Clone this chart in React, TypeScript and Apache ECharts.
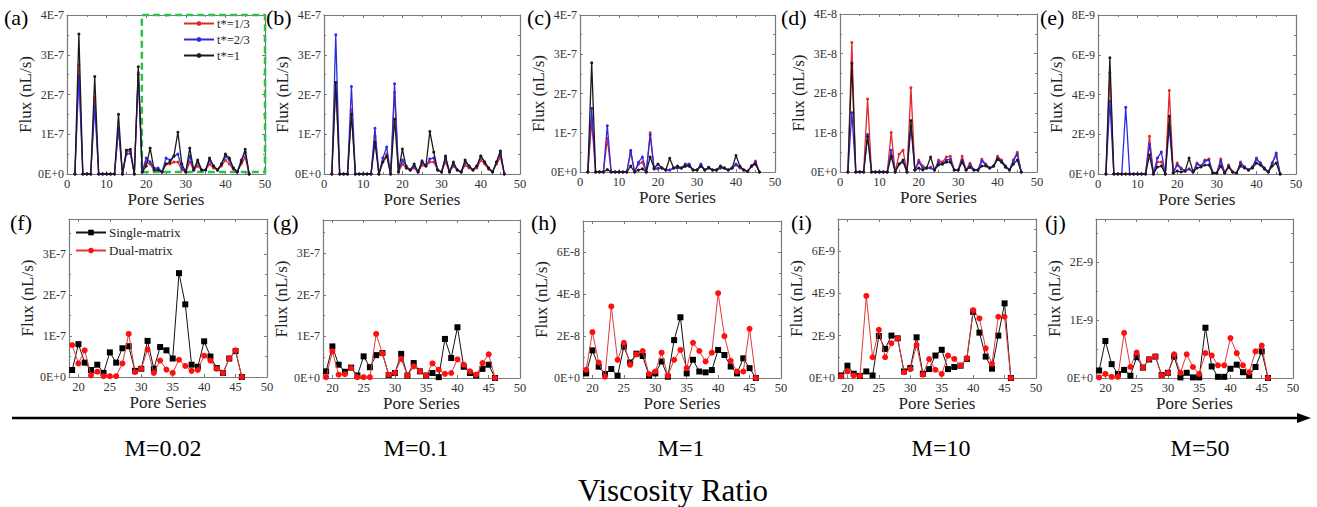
import React, { useEffect, useRef } from "react";
import * as echarts from "echarts";

// ---------- DATA ----------
const PORES_TOP = [2, 3, 4, 5, 6, 7, 8, 9, 10, 11, 12, 13, 14, 15, 16, 17, 18, 19, 20, 21, 22, 23, 24, 25, 26, 27, 28, 29, 30, 31, 32, 33, 34, 35, 36, 37, 38, 39, 40, 41, 42, 43, 44, 45, 46];
const PORES_BOTTOM = [19, 20, 21, 22, 23, 24, 25, 26, 27, 28, 29, 30, 31, 32, 33, 34, 35, 36, 37, 38, 39, 40, 41, 42, 43, 44, 45, 46];
const X_TICKS_BOTTOM = [20, 25, 30, 35, 40, 45, 50];
const TOP_NAMES = ["t*=1/3", "t*=2/3", "t*=1"];
const BOTTOM_NAMES = ["Single-matrix", "Dual-matrix"];
const M_LABELS = ["M=0.02", "M=0.1", "M=1", "M=10", "M=50"];
const PANEL_LETTERS_TOP = ["(a)", "(b)", "(c)", "(d)", "(e)"];
const PANEL_LETTERS_BOTTOM = ["(f)", "(g)", "(h)", "(i)", "(j)"];

// top row values (in units of each panel's exponent)
const A_RED = [0, 2.75, 0, 0, 0, 1.92, 0, 0, 0, 0, 0, 1.15, 0, 0.55, 0.58, 0, 2.55, 0.05, 0.3, 0.25, 0.1, 0.1, 0.05, 0.25, 0.25, 0.3, 0.3, 0.1, 0.05, 0.3, 0.1, 0.2, 0.1, 0.1, 0.25, 0.15, 0.1, 0.2, 0.35, 0.25, 0.12, 0.05, 0.25, 0.42, 0];
const A_BLUE = [0, 2.45, 0, 0, 0, 1.7, 0, 0, 0, 0, 0, 1.15, 0, 0.5, 0.52, 0, 2.5, 0.05, 0.4, 0.3, 0.15, 0.15, 0.05, 0.4, 0.35, 0.45, 0.5, 0.15, 0.05, 0.45, 0.1, 0.3, 0.1, 0.1, 0.35, 0.2, 0.1, 0.25, 0.45, 0.35, 0.15, 0.05, 0.35, 0.55, 0];
const A_BLACK = [0, 3.52, 0, 0, 0, 2.45, 0, 0, 0, 0, 0, 1.5, 0, 0.6, 0.62, 0, 2.7, 0.05, 0.2, 0.65, 0.1, 0.1, 0.05, 0.25, 0.3, 0.45, 1.05, 0.25, 0.05, 0.65, 0.1, 0.35, 0.1, 0.1, 0.4, 0.2, 0.1, 0.25, 0.5, 0.4, 0.15, 0.05, 0.3, 0.62, 0];

const B_RED = [0, 2.3, 0, 0, 0, 1.62, 0, 0, 0, 0, 0, 0.95, 0, 0.3, 0.5, 0, 2.05, 0.05, 0.25, 0.15, 0.1, 0.15, 0.05, 0.22, 0.2, 0.3, 0.3, 0.1, 0.05, 0.3, 0.05, 0.2, 0.1, 0.05, 0.22, 0.15, 0.1, 0.15, 0.35, 0.25, 0.12, 0.05, 0.25, 0.42, 0];
const B_BLUE = [0, 3.5, 0, 0, 0, 2.2, 0, 0, 0, 0, 0, 1.15, 0, 0.4, 0.68, 0, 2.27, 0.05, 0.35, 0.2, 0.1, 0.2, 0.05, 0.33, 0.2, 0.38, 0.4, 0.1, 0.05, 0.4, 0.05, 0.25, 0.1, 0.05, 0.3, 0.2, 0.1, 0.2, 0.45, 0.3, 0.15, 0.05, 0.3, 0.52, 0];
const B_BLACK = [0, 2.3, 0, 0, 0, 1.5, 0, 0, 0, 0, 0, 0.8, 0, 0.3, 0.45, 0, 1.38, 0.05, 0.63, 0.15, 0.1, 0.25, 0.05, 0.3, 0.2, 1.07, 0.55, 0.1, 0.05, 0.45, 0.05, 0.3, 0.1, 0.05, 0.35, 0.2, 0.1, 0.2, 0.45, 0.3, 0.15, 0.05, 0.3, 0.58, 0];

const C_RED = [0, 1.28, 0, 0, 0, 0.85, 0, 0, 0, 0, 0, 0.5, 0, 0.2, 0.25, 0, 1.0, 0.08, 0.08, 0.1, 0.05, 0.05, 0.1, 0.1, 0.1, 0.15, 0.18, 0.05, 0.05, 0.15, 0.05, 0.1, 0.05, 0.05, 0.1, 0.1, 0.05, 0.1, 0.18, 0.1, 0.05, 0.02, 0.15, 0.28, 0];
const C_BLUE = [0, 1.62, 0, 0, 0, 1.18, 0, 0, 0, 0, 0, 0.55, 0, 0.25, 0.38, 0, 0.95, 0.08, 0.1, 0.1, 0.05, 0.05, 0.1, 0.1, 0.1, 0.2, 0.2, 0.05, 0.05, 0.2, 0.05, 0.1, 0.05, 0.05, 0.1, 0.1, 0.05, 0.1, 0.2, 0.12, 0.05, 0.02, 0.15, 0.25, 0];
const C_BLACK = [0, 2.78, 0, 0, 0, 0.06, 0, 0, 0, 0, 0, 0.15, 0, 0.05, 0.08, 0, 0.38, 0.1, 0.2, 0.1, 0.05, 0.35, 0.1, 0.15, 0.1, 0.15, 0.15, 0.05, 0.05, 0.15, 0.05, 0.12, 0.05, 0.05, 0.15, 0.1, 0.05, 0.1, 0.42, 0.15, 0.05, 0.02, 0.15, 0.2, 0];

const D_RED = [0, 3.28, 0, 0, 0, 1.85, 0, 0, 0, 0, 0, 1.0, 0, 0.45, 0.55, 0, 2.13, 0.05, 0.3, 0.15, 0.1, 0.12, 0.05, 0.3, 0.25, 0.38, 0.4, 0.05, 0.05, 0.4, 0.05, 0.22, 0.05, 0.05, 0.32, 0.2, 0.1, 0.15, 0.4, 0.3, 0.15, 0.05, 0.3, 0.5, 0];
const D_BLUE = [0, 1.5, 0, 0, 0, 0.95, 0, 0, 0, 0, 0, 0.55, 0, 0.2, 0.25, 0, 1.15, 0.05, 0.25, 0.1, 0.1, 0.1, 0.05, 0.25, 0.2, 0.3, 0.32, 0.05, 0.05, 0.3, 0.05, 0.18, 0.05, 0.05, 0.28, 0.18, 0.1, 0.15, 0.35, 0.28, 0.15, 0.05, 0.28, 0.45, 0];
const D_BLACK = [0, 2.75, 0, 0, 0, 0.9, 0, 0, 0, 0, 0, 0.4, 0, 0.2, 0.3, 0, 1.3, 0.05, 0.1, 0.05, 0.1, 0.38, 0.05, 0.18, 0.2, 0.25, 0.25, 0.05, 0.05, 0.25, 0.05, 0.12, 0.05, 0.05, 0.15, 0.15, 0.1, 0.15, 0.32, 0.25, 0.12, 0.05, 0.2, 0.3, 0];

const E_RED = [0, 5.1, 0, 0, 0, 0, 0, 0, 0, 0, 0, 1.9, 0, 0.6, 0.6, 0, 4.2, 0.05, 0.55, 0.3, 0.15, 0.25, 0.1, 0.55, 0.4, 0.7, 0.75, 0.05, 0.05, 0.75, 0.05, 0.45, 0.1, 0.05, 0.6, 0.35, 0.2, 0.35, 0.8, 0.55, 0.3, 0.1, 0.55, 0.95, 0];
const E_BLUE = [0, 3.65, 0, 0, 0, 3.35, 0, 0, 0, 0, 0, 1.5, 0, 0.8, 1.1, 0, 2.35, 0.05, 0.45, 0.25, 0.15, 0.25, 0.1, 0.5, 0.4, 0.65, 0.7, 0.05, 0.05, 0.65, 0.05, 0.4, 0.1, 0.05, 0.55, 0.35, 0.2, 0.35, 0.75, 0.55, 0.3, 0.1, 0.55, 1.05, 0];
const E_BLACK = [0, 5.85, 0, 0, 0, 0, 0, 0, 0, 0, 0, 0.95, 0, 0.35, 0.4, 0, 2.9, 0.05, 0.15, 0.1, 0.15, 0.8, 0.1, 0.3, 0.35, 0.45, 0.45, 0.05, 0.05, 0.4, 0.05, 0.35, 0.1, 0.05, 0.4, 0.3, 0.2, 0.3, 0.55, 0.45, 0.25, 0.1, 0.4, 0.55, 0];

// bottom row values
const F_SINGLE = [0.17, 0.8, 0.35, 0.17, 0.3, 0.1, 0.6, 0.35, 0.7, 0.75, 0.15, 0.2, 0.88, 0.2, 0.73, 0.65, 0.45, 2.53, 1.77, 0.3, 0.25, 0.87, 0.5, 0.22, 0.1, 0.45, 0.63, 0];
const F_DUAL = [0.78, 0.33, 0.65, 0.04, 0.13, 0.02, 0.02, 0.02, 0.33, 1.05, 0.12, 0.2, 0.67, 0.1, 0.4, 0.18, 0.1, 0.42, 0.27, 0.15, 0.17, 0.52, 0.4, 0.2, 0.1, 0.45, 0.65, 0];
const G_SINGLE = [0.16, 0.76, 0.32, 0.15, 0.25, 0.06, 0.52, 0.26, 0.55, 0.6, 0.07, 0.12, 0.58, 0.06, 0.36, 0.16, 0.06, 0.12, 0.02, 0.94, 0.48, 1.22, 0.27, 0.12, 0.06, 0.22, 0.32, 0];
const G_DUAL = [0.02, 0.64, 0.08, 0.09, 0.24, 0.02, 0.02, 0.02, 1.06, 0.59, 0.08, 0.12, 0.46, 0.06, 0.28, 0.16, 0.06, 0.35, 0.2, 0.1, 0.12, 0.45, 0.32, 0.16, 0.08, 0.36, 0.57, 0];
const H_SINGLE = [0.22, 1.32, 0.54, 0.19, 0.43, 0.11, 1.5, 0.74, 1.16, 1.05, 0.11, 0.22, 0.79, 0.06, 1.81, 2.9, 0.22, 0.87, 0.31, 0.27, 0.38, 1.34, 1.1, 0.55, 0.22, 0.94, 0.47, 0];
const H_DUAL = [0.39, 2.19, 0.74, 0.06, 3.42, 0.87, 1.68, 0.63, 1.13, 1.29, 0.19, 0.31, 1.21, 0.11, 0.87, 1.34, 0.47, 1.68, 1.29, 0.79, 1.21, 4.05, 2.0, 0.82, 0.31, 0.31, 2.35, 0];
const I_SINGLE = [0.12, 0.58, 0.2, 0.1, 0.31, 0.12, 1.98, 1.37, 2.0, 1.87, 0.31, 0.47, 1.92, 0.2, 0.42, 1.06, 1.33, 0.42, 0.52, 0.58, 0.9, 3.12, 2.14, 1.01, 0.44, 2.0, 3.52, 0];
const I_DUAL = [0.08, 0.31, 0.12, 0.1, 3.87, 0.98, 2.27, 0.98, 1.64, 1.87, 0.27, 0.42, 1.56, 0.16, 0.89, 0.39, 0.19, 1.06, 0.9, 0.58, 0.94, 3.2, 2.81, 1.4, 0.67, 2.89, 2.89, 0];
const J_SINGLE = [0.13, 0.64, 0.24, 0.07, 0.14, 0.04, 0.36, 0.18, 0.32, 0.37, 0.05, 0.09, 0.37, 0.01, 0.09, 0.01, 0.01, 0.87, 0.2, 0.02, 0.02, 0.16, 0.23, 0.1, 0.04, 0.19, 0.46, 0];
const J_DUAL = [0.01, 0.07, 0.02, 0.02, 0.78, 0.19, 0.44, 0.18, 0.33, 0.37, 0.04, 0.09, 0.41, 0.09, 0.41, 0.19, 0.07, 0.43, 0.39, 0.22, 0.22, 0.69, 0.43, 0.22, 0.1, 0.46, 0.56, 0];

// y-axis: [max, interval, exponent label]
const TOP_Y = [[4, 1, "E-7"], [4, 1, "E-7"], [4, 1, "E-7"], [4, 1, "E-8"], [8, 2, "E-9"]];
const BOTTOM_Y = [[3.85, 1, "E-7"], [3.8, 1, "E-7"], [7.5, 2, "E-8"], [7.5, 2, "E-9"], [2.75, 1, "E-9"]];

const TOP_DATA = [
  [A_RED, A_BLUE, A_BLACK],
  [B_RED, B_BLUE, B_BLACK],
  [C_RED, C_BLUE, C_BLACK],
  [D_RED, D_BLUE, D_BLACK],
  [E_RED, E_BLUE, E_BLACK],
];
const BOTTOM_DATA = [
  [F_SINGLE, F_DUAL],
  [G_SINGLE, G_DUAL],
  [H_SINGLE, H_DUAL],
  [I_SINGLE, I_DUAL],
  [J_SINGLE, J_DUAL],
];

// ---------- LAYOUT ----------
const TOP_GRIDS = [
  { left: 67, top: 15, width: 198, height: 159 },
  { left: 324, top: 15, width: 196, height: 159 },
  { left: 580, top: 15, width: 195, height: 157 },
  { left: 840, top: 14, width: 197, height: 158 },
  { left: 1098, top: 15, width: 198, height: 159 },
];
const BOTTOM_GRIDS = [
  { left: 69, top: 219, width: 198, height: 158 },
  { left: 323, top: 220, width: 197, height: 158 },
  { left: 583, top: 221, width: 198, height: 157 },
  { left: 838, top: 219, width: 198, height: 159 },
  { left: 1096, top: 219, width: 197, height: 159 },
];
const TOP_LETTER_POS = [[4, 6], [266, 6], [527, 6], [781, 6], [1040, 6]];
const BOTTOM_LETTER_POS = [[10, 211], [273, 211], [531, 211], [791, 211], [1045, 211]];
const M_POS = [163, 416, 681, 941, 1200];

const SERIF = "Liberation Serif, Times New Roman, serif";
const TOP_COLORS = ["#e3262b", "#2b2be3", "#1a1a1a"];
const FRAME = "#7a7a7a";

function fmt(exp: string) {
  return (v: number) => {
    if (v === 0) return "0E+0";
    if (Math.abs(v - Math.round(v)) > 1e-9) return "";
    return `${Math.round(v)}${exp}`;
  };
}

function buildOption() {
  const grid: any[] = [];
  const xAxis: any[] = [];
  const yAxis: any[] = [];
  const series: any[] = [];

  const tickStyle = { lineStyle: { color: FRAME, width: 1 } };

  const addPanel = (g: any, isTop: boolean, yCfg: any[]) => {
    const gi = grid.length;
    grid.push({ ...g, containLabel: false });
    const [ymax, yint, exp] = yCfg;
    const xBase: any = isTop ? { min: 0, max: 50, interval: 10 } : { min: 18.5, max: 50 };
    const xLabel: any = {
      fontFamily: SERIF,
      fontSize: 12.5,
      color: "#333",
      margin: 3,
      showMinLabel: true,
      showMaxLabel: true,
    };
    const xTick: any = { inside: true, length: 3, ...tickStyle };
    if (!isTop) {
      xLabel.customValues = X_TICKS_BOTTOM;
      xTick.customValues = X_TICKS_BOTTOM;
    }
    const minor = isTop
      ? { show: true, splitNumber: 2, length: 2, lineStyle: { color: FRAME } }
      : { show: false };
    xAxis.push({
      gridIndex: gi,
      type: "value",
      position: "bottom",
      ...xBase,
      axisLine: { show: true, onZero: false, lineStyle: { color: FRAME, width: 1.2 } },
      axisTick: xTick,
      minorTick: minor,
      splitLine: { show: false },
      axisLabel: xLabel,
      name: "Pore Series",
      nameLocation: "middle",
      nameGap: 17,
      nameTextStyle: { fontFamily: SERIF, fontSize: 17, color: "#222" },
    });
    xAxis.push({
      gridIndex: gi,
      type: "value",
      position: "top",
      ...xBase,
      axisLine: { show: true, onZero: false, lineStyle: { color: FRAME, width: 1.2 } },
      axisTick: { ...xTick },
      minorTick: minor,
      splitLine: { show: false },
      axisLabel: { show: false },
    });
    const yCommon: any = {
      gridIndex: gi,
      type: "value",
      min: 0,
      max: ymax,
      interval: yint,
      axisLine: { show: true, onZero: false, lineStyle: { color: FRAME, width: 1.2 } },
      axisTick: { inside: true, length: 3, ...tickStyle },
      minorTick: { show: true, splitNumber: 2, length: 2, lineStyle: { color: FRAME } },
      splitLine: { show: false },
    };
    yAxis.push({
      ...yCommon,
      position: "left",
      axisLabel: {
        fontFamily: SERIF,
        fontSize: 12,
        color: "#333",
        margin: 3,
        formatter: fmt(exp as string),
      },
      name: "Flux (nL/s)",
      nameLocation: "middle",
      nameGap: 22,
      nameTextStyle: { fontFamily: SERIF, fontSize: 17, color: "#222" },
    });
    yAxis.push({
      ...yCommon,
      position: "right",
      axisLabel: { show: false },
    });
    return gi;
  };

  TOP_GRIDS.forEach((g, p) => {
    const gi = addPanel(g, true, TOP_Y[p]);
    TOP_DATA[p].forEach((vals, s) => {
      const ser: any = {
        type: "line",
        name: TOP_NAMES[s],
        xAxisIndex: gi * 2,
        yAxisIndex: gi * 2,
        data: PORES_TOP.map((x, i) => [x, vals[i]]),
        symbol: "circle",
        symbolSize: 3,
        showSymbol: true,
        lineStyle: { color: TOP_COLORS[s], width: 1.3 },
        itemStyle: { color: TOP_COLORS[s] },
        z: 2 + s,
      };
      if (p === 0 && s === 2) {
        ser.markArea = {
          silent: true,
          itemStyle: {
            color: "rgba(0,0,0,0)",
            borderColor: "#2fc04a",
            borderWidth: 2.5,
            borderType: [7, 4],
          },
          data: [[{ xAxis: 18.9, yAxis: 0.05 }, { xAxis: 50, yAxis: 4 }]],
        };
      }
      series.push(ser);
    });
  });

  BOTTOM_GRIDS.forEach((g, p) => {
    const gi = addPanel(g, false, BOTTOM_Y[p]);
    BOTTOM_DATA[p].forEach((vals, s) => {
      series.push({
        type: "line",
        name: BOTTOM_NAMES[s],
        xAxisIndex: gi * 2,
        yAxisIndex: gi * 2,
        data: PORES_BOTTOM.map((x, i) => [x, vals[i]]),
        symbol: s === 0 ? "rect" : "circle",
        symbolSize: 6,
        showSymbol: true,
        lineStyle: { color: s === 0 ? "#111" : "#e0393b", width: 1 },
        itemStyle: { color: s === 0 ? "#000" : "#ff1010" },
        z: 2 + s,
      });
    });
  });

  const graphic: any[] = [];
  PANEL_LETTERS_TOP.forEach((t, i) => {
    graphic.push({
      type: "text",
      x: TOP_LETTER_POS[i][0],
      y: TOP_LETTER_POS[i][1],
      style: { text: t, font: `22px ${SERIF}`, fill: "#000" },
    });
  });
  PANEL_LETTERS_BOTTOM.forEach((t, i) => {
    graphic.push({
      type: "text",
      x: BOTTOM_LETTER_POS[i][0],
      y: BOTTOM_LETTER_POS[i][1],
      style: { text: t, font: `22px ${SERIF}`, fill: "#000" },
    });
  });
  graphic.push({
    type: "line",
    shape: { x1: 12, y1: 418, x2: 1300, y2: 418 },
    style: { stroke: "#000", lineWidth: 2.5 },
  });
  graphic.push({
    type: "polygon",
    shape: { points: [[1297, 413], [1311, 418], [1297, 423]] },
    style: { fill: "#000" },
  });
  M_LABELS.forEach((t, i) => {
    graphic.push({
      type: "text",
      x: M_POS[i],
      y: 448,
      style: { text: t, font: `24px ${SERIF}`, fill: "#000", align: "center", verticalAlign: "middle" },
    });
  });
  graphic.push({
    type: "text",
    x: 673,
    y: 490,
    style: { text: "Viscosity Ratio", font: `31px ${SERIF}`, fill: "#000", align: "center", verticalAlign: "middle" },
  });

  const legend = [
    {
      data: TOP_NAMES,
      orient: "vertical",
      left: 183,
      top: 17,
      itemWidth: 30,
      itemHeight: 6,
      itemGap: 3,
      padding: 0,
      textStyle: { fontFamily: SERIF, fontSize: 12.5, color: "#222", padding: [0, 0, 0, -2] },
      selectedMode: false,
    },
    {
      data: BOTTOM_NAMES,
      orient: "vertical",
      left: 75,
      top: 226,
      itemWidth: 30,
      itemHeight: 7,
      itemGap: 5,
      padding: 0,
      textStyle: { fontFamily: SERIF, fontSize: 13, color: "#222", padding: [0, 0, 0, -2] },
      selectedMode: false,
    },
  ];

  return {
    animation: false,
    backgroundColor: "#fff",
    textStyle: { fontFamily: SERIF },
    grid,
    xAxis,
    yAxis,
    series,
    graphic,
    legend,
  };
}

export default function App() {
  const ref = useRef<HTMLDivElement>(null);
  useEffect(() => {
    document.body.style.margin = "0";
    if (!ref.current) return;
    const chart = echarts.init(ref.current, undefined, { renderer: "svg" });
    chart.setOption(buildOption() as any);
    return () => chart.dispose();
  }, []);
  return (
    <div
      ref={ref}
      style={{ position: "absolute", left: 0, top: 0, width: 1317, height: 507, background: "#fff" }}
    />
  );
}
